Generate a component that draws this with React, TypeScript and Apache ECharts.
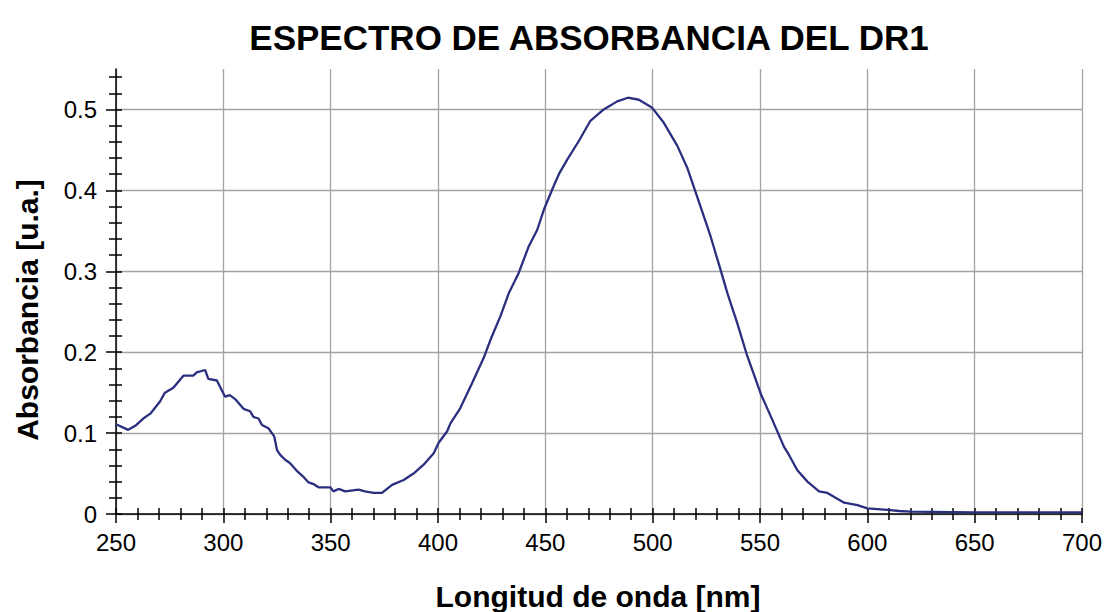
import React, { useEffect, useRef } from "react";
import * as echarts from "echarts";

const TITLE = "ESPECTRO DE ABSORBANCIA DEL DR1";
const X_NAME = "Longitud de onda [nm]";
const Y_NAME = "Absorbancia [u.a.]";

const WAVELENGTH = [
  250, 255.7, 259, 262.7, 266, 270.5, 272.8, 276.7, 281.4, 286, 287.6, 291.5, 293, 297,
  300.8, 303, 305.5, 309.4, 312.5, 314, 316.4, 318, 321, 323.7, 325, 326.5, 328.8, 331,
  334, 337.3, 339.7, 342, 344.3, 349.8, 351.3, 353.7, 356.8, 363, 366, 370, 373.9, 378.6,
  384, 388.6, 393.3, 398, 400.3, 404.2, 405.8, 410.4, 415.9, 421.3, 424.4, 429, 433,
  437.6, 442.3, 446.2, 449.3, 453.5, 456.3, 460.2, 465.6, 471, 477.2, 483.5, 488.5,
  493.6, 499.8, 505.2, 511.5, 516.1, 522.3, 527, 531.6, 534.8, 539.4, 544.1, 550.3,
  555.8, 561.2, 563.5, 567.4, 572.1, 577.5, 581.4, 589.2, 595.4, 600, 609.4, 614.8,
  620, 650, 700,
];
const ABSORBANCE = [
  0.111, 0.104, 0.109, 0.118, 0.124, 0.139, 0.15, 0.156, 0.171, 0.171, 0.175, 0.178, 0.167, 0.165,
  0.145, 0.147, 0.142, 0.13, 0.127, 0.12, 0.118, 0.11, 0.106, 0.096, 0.079, 0.073, 0.067, 0.063,
  0.054, 0.046, 0.039, 0.037, 0.033, 0.033, 0.028, 0.031, 0.028, 0.03, 0.028, 0.026, 0.026, 0.036,
  0.042, 0.05, 0.061, 0.075, 0.088, 0.102, 0.112, 0.131, 0.162, 0.193, 0.215, 0.244, 0.273,
  0.298, 0.331, 0.351, 0.376, 0.403, 0.42, 0.438, 0.461, 0.486, 0.5, 0.51, 0.5145,
  0.512, 0.502, 0.4835, 0.455, 0.428, 0.38, 0.343, 0.302, 0.273, 0.236, 0.195, 0.149,
  0.116, 0.083, 0.073, 0.054, 0.04, 0.028, 0.026, 0.014, 0.011, 0.007, 0.005, 0.0037,
  0.003, 0.002, 0.002,
];

const X_MIN = 250;
const X_MAX = 700;
const X_STEP = 50;
const X_MINOR_STEP = 10;
const Y_MIN = 0;
const Y_MAX = 0.55;
const Y_MAJOR = [0, 0.1, 0.2, 0.3, 0.4, 0.5];
const Y_MINOR = [
  0.02, 0.04, 0.06, 0.08, 0.12, 0.14, 0.16, 0.18, 0.22, 0.24, 0.26, 0.28,
  0.32, 0.34, 0.36, 0.38, 0.42, 0.44, 0.46, 0.48, 0.52, 0.54,
];
const Y_ALL = [
  0, 0.02, 0.04, 0.06, 0.08, 0.1, 0.12, 0.14, 0.16, 0.18, 0.2, 0.22, 0.24, 0.26, 0.28,
  0.3, 0.32, 0.34, 0.36, 0.38, 0.4, 0.42, 0.44, 0.46, 0.48, 0.5, 0.52, 0.54,
];

const FONT = '"Liberation Sans", Arial, sans-serif';
const LINE_COLOR = "#2B2F7F";
const GRID_COLOR = "#A3A3A3";

export default function App() {
  const ref = useRef<HTMLDivElement>(null);
  useEffect(() => {
    if (!ref.current) return;
    const chart = echarts.init(ref.current, undefined, { renderer: "svg" });
    const data = WAVELENGTH.map((w, i) => [w, ABSORBANCE[i]]);
    const hidden = { show: false };
    chart.setOption({
      animation: false,
      backgroundColor: "#fff",
      grid: { left: 116, top: 69, right: 25, bottom: 98, containLabel: false, outerBoundsMode: "none" },
      xAxis: [
        {
          type: "value",
          min: X_MIN,
          max: X_MAX,
          interval: X_STEP,
          axisLine: { show: true, onZero: false, lineStyle: { color: "#000", width: 1.5 } },
          axisTick: { show: true, length: 9, lineStyle: { color: "#000", width: 1.5 } },
          minorTick: { show: true, splitNumber: 5, length: 6, lineStyle: { color: "#000", width: 1.5 } },
          axisLabel: { margin: 16, fontSize: 24, color: "#000", fontFamily: FONT },
          splitLine: { show: true, lineStyle: { color: GRID_COLOR, width: 1.3 } },
        },
        {
          type: "value",
          min: X_MIN,
          max: X_MAX,
          interval: X_MINOR_STEP,
          position: "bottom",
          axisLine: { show: false, onZero: false },
          axisTick: { show: true, inside: true, length: 6, lineStyle: { color: "#000", width: 1.5 } },
          axisLabel: hidden,
          splitLine: hidden,
        },
      ],
      yAxis: [
        {
          type: "value",
          min: Y_MIN,
          max: Y_MAX,
          interval: 0.1,
          axisLine: { show: true, onZero: false, lineStyle: { color: "#000", width: 1.5 } },
          axisTick: { show: true, length: 10, customValues: Y_MAJOR, lineStyle: { color: "#000", width: 1.5 } },
          axisLabel: { margin: 19, fontSize: 24, color: "#000", fontFamily: FONT, customValues: Y_MAJOR },
          splitLine: { show: true, lineStyle: { color: GRID_COLOR, width: 1.3 } },
        },
        {
          type: "value",
          min: Y_MIN,
          max: Y_MAX,
          interval: 0.1,
          position: "left",
          axisLine: { show: false, onZero: false },
          axisTick: { show: true, length: 7, customValues: Y_MINOR, lineStyle: { color: "#000", width: 1.5 } },
          axisLabel: hidden,
          splitLine: hidden,
        },
        {
          type: "value",
          min: Y_MIN,
          max: Y_MAX,
          interval: 0.1,
          position: "left",
          axisLine: { show: false, onZero: false },
          axisTick: { show: true, inside: true, length: 6, customValues: Y_ALL, lineStyle: { color: "#000", width: 1.5 } },
          axisLabel: hidden,
          splitLine: hidden,
        },
      ],
      graphic: [
        {
          type: "text",
          x: 589,
          y: 37,
          style: { text: TITLE, font: `bold 35px ${FONT}`, fill: "#000", align: "center", verticalAlign: "middle" },
        },
        {
          type: "text",
          x: 598,
          y: 596,
          style: { text: X_NAME, font: `bold 30px ${FONT}`, fill: "#000", align: "center", verticalAlign: "middle" },
        },
        {
          type: "text",
          x: 27,
          y: 310,
          rotation: Math.PI / 2,
          style: { text: Y_NAME, font: `bold 30px ${FONT}`, fill: "#000", align: "center", verticalAlign: "middle" },
        },
      ],
      series: [
        {
          type: "line",
          xAxisIndex: 0,
          yAxisIndex: 0,
          data,
          showSymbol: false,
          smooth: false,
          lineStyle: { color: LINE_COLOR, width: 2.3 },
          z: 5,
        },
      ],
    });
    return () => chart.dispose();
  }, []);
  return (
    <div
      ref={ref}
      style={{ position: "fixed", left: 0, top: 0, width: 1107, height: 612 }}
    />
  );
}
